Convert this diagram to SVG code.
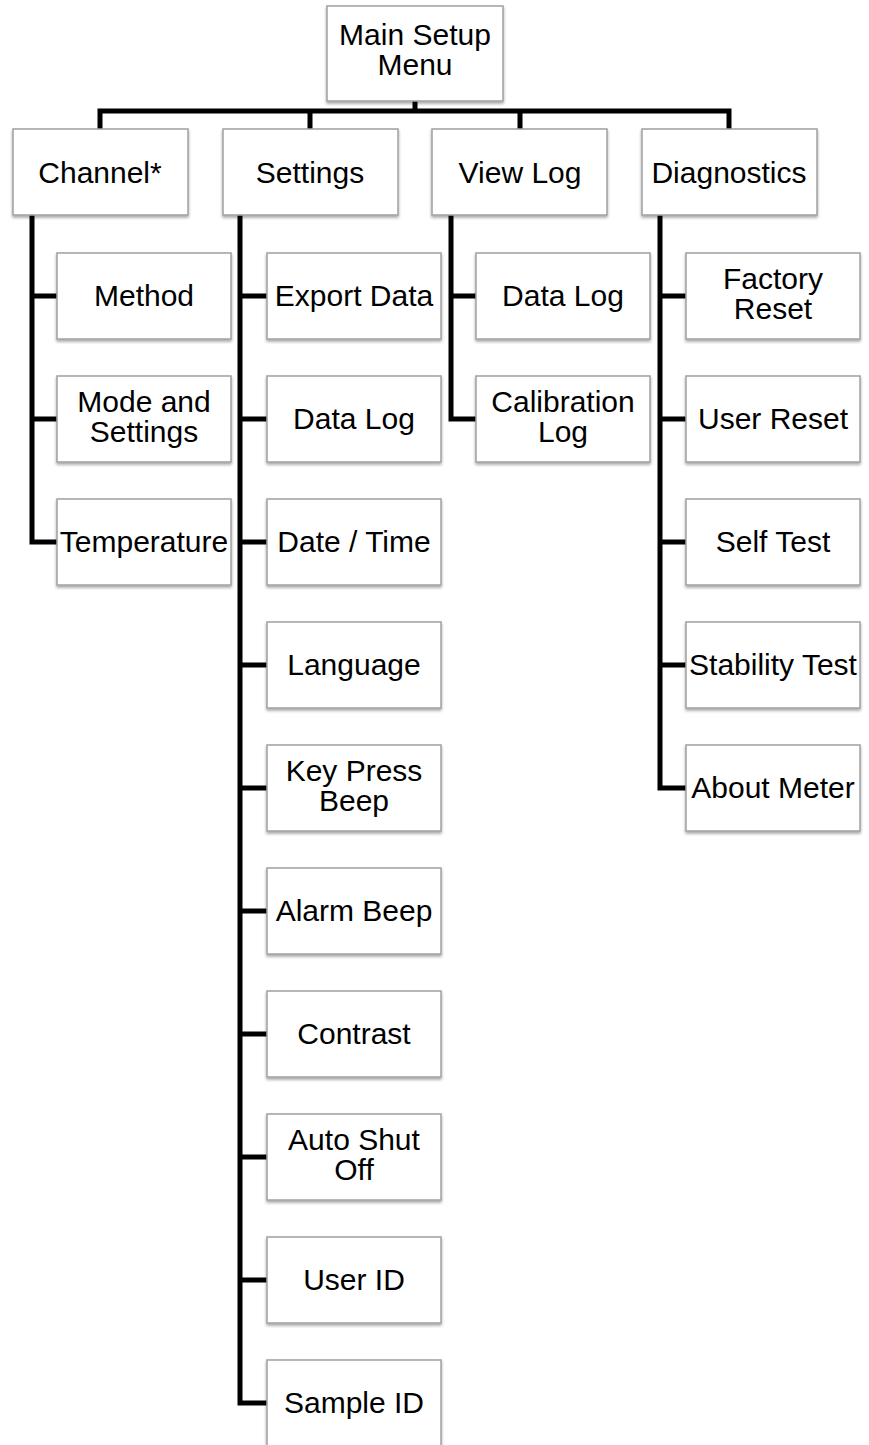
<svg xmlns="http://www.w3.org/2000/svg" width="869" height="1445" viewBox="0 0 869 1445">
<style>
.box{fill:#ffffff;stroke:#a0a0a0;stroke-width:1.5;filter:url(#sh)}
.t{font-family:"Liberation Sans",Arial,sans-serif;font-size:30px;fill:#000;text-anchor:middle}
.c{fill:none;stroke:#000;stroke-width:5;stroke-linejoin:miter;stroke-linecap:butt}
</style>
<defs>
<filter id="sh" x="-10%" y="-10%" width="120%" height="130%">
<feDropShadow dx="0" dy="2" stdDeviation="1.5" flood-color="#000" flood-opacity="0.35"/>
</filter>
</defs>
<rect width="869" height="1445" fill="#fff"/>
<g id="connectors">
<path class="c" d="M415,101 V111 M100,133 V111 H729 V133 M310,111 V133 M520,111 V133"/>
<path class="c" d="M32,215 V542 H57 M32,296 H57 M32,419 H57"/>
<path class="c" d="M240,215 V1403 H267 M240,296 H267 M240,419 H267 M240,542 H267 M240,665 H267 M240,788 H267 M240,911 H267 M240,1034 H267 M240,1157 H267 M240,1280 H267"/>
<path class="c" d="M451,215 V419 H476 M451,296 H476"/>
<path class="c" d="M660,215 V788 H686 M660,296 H686 M660,419 H686 M660,542 H686 M660,665 H686"/>
</g>
<g id="main"><rect class="box" x="327" y="6" width="176" height="95"/><text class="t" x="415" y="45">Main Setup</text><text class="t" x="415" y="75">Menu</text></g>
<g id="channel"><rect class="box" x="13" y="129" width="175" height="86"/><text class="t" x="100" y="183">Channel*</text></g>
<g id="settings"><rect class="box" x="223" y="129" width="175" height="86"/><text class="t" x="310" y="183">Settings</text></g>
<g id="viewlog"><rect class="box" x="432" y="129" width="175" height="86"/><text class="t" x="520" y="183">View Log</text></g>
<g id="diagnostics"><rect class="box" x="642" y="129" width="175" height="86"/><text class="t" x="729" y="183">Diagnostics</text></g>

<g id="method"><rect class="box" x="57" y="253" width="174" height="86"/><text class="t" x="144" y="306">Method</text></g>
<g id="mode"><rect class="box" x="57" y="376" width="174" height="86"/><text class="t" x="144" y="412">Mode and</text><text class="t" x="144" y="442">Settings</text></g>
<g id="temperature"><rect class="box" x="57" y="499" width="174" height="86"/><text class="t" x="144" y="552">Temperature</text></g>

<g id="exportdata"><rect class="box" x="267" y="253" width="174" height="86"/><text class="t" x="354" y="306">Export Data</text></g>
<g id="datalog1"><rect class="box" x="267" y="376" width="174" height="86"/><text class="t" x="354" y="429">Data Log</text></g>
<g id="datetime"><rect class="box" x="267" y="499" width="174" height="86"/><text class="t" x="354" y="552">Date / Time</text></g>
<g id="language"><rect class="box" x="267" y="622" width="174" height="86"/><text class="t" x="354" y="675">Language</text></g>
<g id="keypress"><rect class="box" x="267" y="745" width="174" height="86"/><text class="t" x="354" y="781">Key Press</text><text class="t" x="354" y="811">Beep</text></g>
<g id="alarmbeep"><rect class="box" x="267" y="868" width="174" height="86"/><text class="t" x="354" y="921">Alarm Beep</text></g>
<g id="contrast"><rect class="box" x="267" y="991" width="174" height="86"/><text class="t" x="354" y="1044">Contrast</text></g>
<g id="autoshutoff"><rect class="box" x="267" y="1114" width="174" height="86"/><text class="t" x="354" y="1150">Auto Shut</text><text class="t" x="354" y="1180">Off</text></g>
<g id="userid"><rect class="box" x="267" y="1237" width="174" height="86"/><text class="t" x="354" y="1290">User ID</text></g>
<g id="sampleid"><rect class="box" x="267" y="1360" width="174" height="86"/><text class="t" x="354" y="1413">Sample ID</text></g>

<g id="datalog2"><rect class="box" x="476" y="253" width="174" height="86"/><text class="t" x="563" y="306">Data Log</text></g>
<g id="calibrationlog"><rect class="box" x="476" y="376" width="174" height="86"/><text class="t" x="563" y="412">Calibration</text><text class="t" x="563" y="442">Log</text></g>

<g id="factoryreset"><rect class="box" x="686" y="253" width="174" height="86"/><text class="t" x="773" y="289">Factory</text><text class="t" x="773" y="319">Reset</text></g>
<g id="userreset"><rect class="box" x="686" y="376" width="174" height="86"/><text class="t" x="773" y="429">User Reset</text></g>
<g id="selftest"><rect class="box" x="686" y="499" width="174" height="86"/><text class="t" x="773" y="552">Self Test</text></g>
<g id="stabilitytest"><rect class="box" x="686" y="622" width="174" height="86"/><text class="t" x="773" y="675">Stability Test</text></g>
<g id="aboutmeter"><rect class="box" x="686" y="745" width="174" height="86"/><text class="t" x="773" y="798">About Meter</text></g>
</svg>
